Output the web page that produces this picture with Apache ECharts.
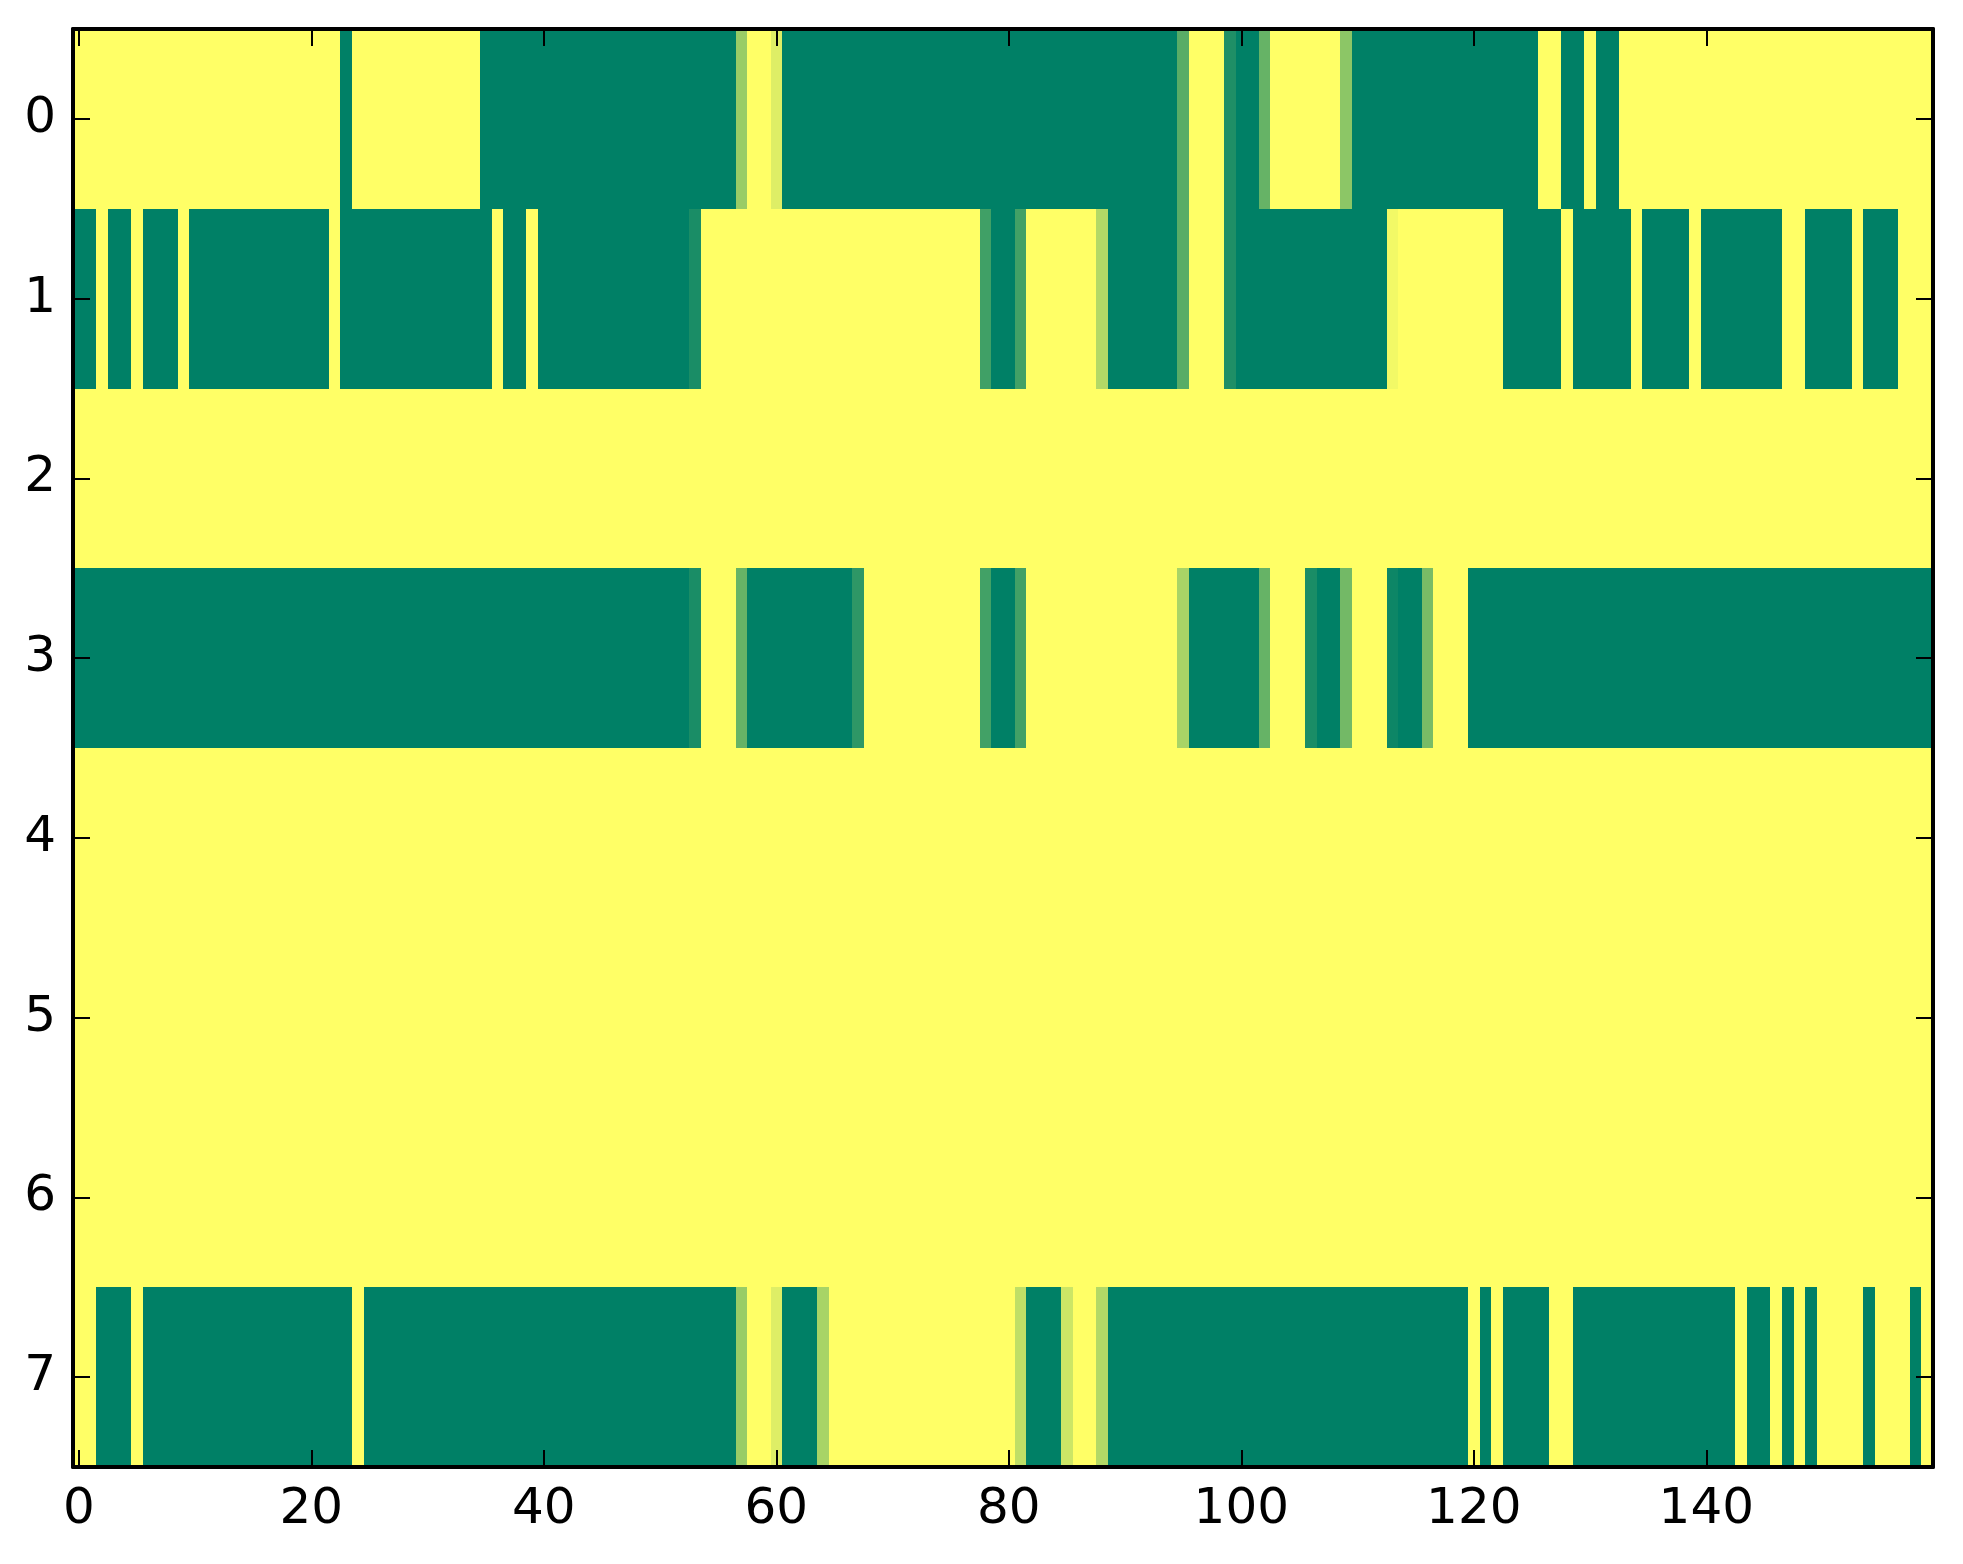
<!DOCTYPE html>
<html>
<head>
<meta charset="utf-8">
<script src="https://cdn.jsdelivr.net/npm/echarts@6/dist/echarts.min.js"></script>
<style>
html,body{margin:0;padding:0;background:#fff;}
#chart{width:1963px;height:1564px;}
</style>
</head>
<body>
<div id="chart"></div>
<script>
// Column categories (0..159) and row categories (0..7)
var xCategories = [];
for (var c = 0; c < 160; c++) xCategories.push(String(c));
var yCategories = ['0','1','2','3','4','5','6','7'];

// Cell values per row (0 = green end of colormap, 1 = yellow end)
var row0 = [
1,1,1,1,1,1,1,1,1,1, 1,1,1,1,1,1,1,1,1,1,
1,1,1,0,1,1,1,1,1,1, 1,1,1,1,1,0,0,0,0,0,
0,0,0,0,0,0,0,0,0,0, 0,0,0,0,0,0,0,0.6,1,1,
0.87,0,0,0,0,0,0,0,0,0, 0,0,0,0,0,0,0,0,0,0,
0,0,0,0,0,0,0,0,0,0, 0,0,0,0,0,0.35,1,1,1,0.12,
0,0,0.4,1,1,1,1,1,1,0.55, 0,0,0,0,0,0,0,0,0,0,
0,0,0,0,0,0,1,1,0,0, 1,0,0,1,1,1,1,1,1,1,
1,1,1,1,1,1,1,1,1,1, 1,1,1,1,1,1,1,1,1,1
];
var row1 = [
0,0,1,0,0,1,0,0,0,1, 0,0,0,0,0,0,0,0,0,0,
0,0,1,0,0,0,0,0,0,0, 0,0,0,0,0,0,1,0,0,1,
0,0,0,0,0,0,0,0,0,0, 0,0,0,0.1,1,1,1,1,1,1,
1,1,1,1,1,1,1,1,1,1, 1,1,1,1,1,1,1,1,0.25,0,
0,0.26,1,1,1,1,1,1,0.7,0, 0,0,0,0,0,0.35,1,1,1,0.12,
0,0,0,0,0,0,0,0,0,0, 0,0,0,0.95,1,1,1,1,1,1,
1,1,1,0,0,0,0,0,1,0, 0,0,0,0,1,0,0,0,0,1,
0,0,0,0,0,0,0,1,1,0, 0,0,0,1,0,0,0,1,1,1
];
var row2 = [
1,1,1,1,1,1,1,1,1,1, 1,1,1,1,1,1,1,1,1,1,
1,1,1,1,1,1,1,1,1,1, 1,1,1,1,1,1,1,1,1,1,
1,1,1,1,1,1,1,1,1,1, 1,1,1,1,1,1,1,1,1,1,
1,1,1,1,1,1,1,1,1,1, 1,1,1,1,1,1,1,1,1,1,
1,1,1,1,1,1,1,1,1,1, 1,1,1,1,1,1,1,1,1,1,
1,1,1,1,1,1,1,1,1,1, 1,1,1,1,1,1,1,1,1,1,
1,1,1,1,1,1,1,1,1,1, 1,1,1,1,1,1,1,1,1,1,
1,1,1,1,1,1,1,1,1,1, 1,1,1,1,1,1,1,1,1,1
];
var row3 = [
0,0,0,0,0,0,0,0,0,0, 0,0,0,0,0,0,0,0,0,0,
0,0,0,0,0,0,0,0,0,0, 0,0,0,0,0,0,0,0,0,0,
0,0,0,0,0,0,0,0,0,0, 0,0,0,0.1,1,1,1,0.4,0,0,
0,0,0,0,0,0,0,0.18,1,1, 1,1,1,1,1,1,1,1,0.26,0,
0,0.26,1,1,1,1,1,1,1,1, 1,1,1,1,1,0.66,0,0,0,0,
0,0,0.4,1,1,1,0.1,0,0,0.45, 1,1,1,0.05,0,0,0.47,1,1,1,
0,0,0,0,0,0,0,0,0,0, 0,0,0,0,0,0,0,0,0,0,
0,0,0,0,0,0,0,0,0,0, 0,0,0,0,0,0,0,0,0,0
];
var row4 = [
1,1,1,1,1,1,1,1,1,1, 1,1,1,1,1,1,1,1,1,1,
1,1,1,1,1,1,1,1,1,1, 1,1,1,1,1,1,1,1,1,1,
1,1,1,1,1,1,1,1,1,1, 1,1,1,1,1,1,1,1,1,1,
1,1,1,1,1,1,1,1,1,1, 1,1,1,1,1,1,1,1,1,1,
1,1,1,1,1,1,1,1,1,1, 1,1,1,1,1,1,1,1,1,1,
1,1,1,1,1,1,1,1,1,1, 1,1,1,1,1,1,1,1,1,1,
1,1,1,1,1,1,1,1,1,1, 1,1,1,1,1,1,1,1,1,1,
1,1,1,1,1,1,1,1,1,1, 1,1,1,1,1,1,1,1,1,1
];
var row5 = [
1,1,1,1,1,1,1,1,1,1, 1,1,1,1,1,1,1,1,1,1,
1,1,1,1,1,1,1,1,1,1, 1,1,1,1,1,1,1,1,1,1,
1,1,1,1,1,1,1,1,1,1, 1,1,1,1,1,1,1,1,1,1,
1,1,1,1,1,1,1,1,1,1, 1,1,1,1,1,1,1,1,1,1,
1,1,1,1,1,1,1,1,1,1, 1,1,1,1,1,1,1,1,1,1,
1,1,1,1,1,1,1,1,1,1, 1,1,1,1,1,1,1,1,1,1,
1,1,1,1,1,1,1,1,1,1, 1,1,1,1,1,1,1,1,1,1,
1,1,1,1,1,1,1,1,1,1, 1,1,1,1,1,1,1,1,1,1
];
var row6 = [
1,1,1,1,1,1,1,1,1,1, 1,1,1,1,1,1,1,1,1,1,
1,1,1,1,1,1,1,1,1,1, 1,1,1,1,1,1,1,1,1,1,
1,1,1,1,1,1,1,1,1,1, 1,1,1,1,1,1,1,1,1,1,
1,1,1,1,1,1,1,1,1,1, 1,1,1,1,1,1,1,1,1,1,
1,1,1,1,1,1,1,1,1,1, 1,1,1,1,1,1,1,1,1,1,
1,1,1,1,1,1,1,1,1,1, 1,1,1,1,1,1,1,1,1,1,
1,1,1,1,1,1,1,1,1,1, 1,1,1,1,1,1,1,1,1,1,
1,1,1,1,1,1,1,1,1,1, 1,1,1,1,1,1,1,1,1,1
];
var row7 = [
1,1,0,0,0,1,0,0,0,0, 0,0,0,0,0,0,0,0,0,0,
0,0,0,0,1,0,0,0,0,0, 0,0,0,0,0,0,0,0,0,0,
0,0,0,0,0,0,0,0,0,0, 0,0,0,0,0,0,0,0.6,1,1,
0.87,0,0,0,0.66,1,1,1,1,1, 1,1,1,1,1,1,1,1,1,1,
1,0.75,0,0,0,0.8,1,1,0.7,0, 0,0,0,0,0,0,0,0,0,0,
0,0,0,0,0,0,0,0,0,0, 0,0,0,0,0,0,0,0,0,0,
1,0,1,0,0,0,0,1,1,0, 0,0,0,0,0,0,0,0,0,0,
0,0,0,1,0,0,1,0,1,0, 1,1,1,1,0,1,1,1,0,1
];
var rows = [row0,row1,row2,row3,row4,row5,row6,row7];

// Colormap endpoints ("summer")
var colorLow = '#008066';
var colorHigh = '#ffff66';

var cells = [];
for (var r = 0; r < rows.length; r++) {
  for (var i = 0; i < rows[r].length; i++) {
    cells.push([i, r, rows[r][i]]);
  }
}

var FONT = 'DejaVu Sans';
var tickStyle = {show:true, inside:true, alignWithLabel:true, length:17, lineStyle:{color:'#000', width:2}};
var lineStyle = {show:true, onZero:false, lineStyle:{color:'#000', width:4}};

// Draw each cell as a pixel-snapped rectangle located through the axes' scales
function renderCell(params, api) {
  var p = api.coord([api.value(0), api.value(1)]);
  var s = api.size([1, 1]);
  var x0 = Math.round(p[0] - s[0] / 2), x1 = Math.round(p[0] + s[0] / 2);
  var y0 = Math.round(p[1] - s[1] / 2), y1 = Math.round(p[1] + s[1] / 2);
  return {
    type:'rect',
    shape:{x:x0, y:y0, width:x1 - x0, height:y1 - y0},
    style:{fill: api.visual('color'), stroke:null},
    silent:true
  };
}

var chart = echarts.init(document.getElementById('chart'), null, {renderer:'canvas'});
chart.setOption({
  animation:false,
  backgroundColor:'#ffffff',
  grid:{left:73, right:30, top:29, bottom:97, containLabel:false},
  xAxis:[
    {type:'category', data:xCategories, position:'bottom', z:10,
     axisLine:lineStyle,
     axisTick:Object.assign({interval:19}, tickStyle),
     axisLabel:{interval:19, margin:18, color:'#000', fontFamily:FONT, fontSize:50},
     splitLine:{show:false}},
    {type:'category', data:xCategories, position:'top', z:10,
     axisLine:lineStyle,
     axisTick:Object.assign({interval:19}, tickStyle),
     axisLabel:{show:false},
     splitLine:{show:false}}
  ],
  yAxis:[
    {type:'category', data:yCategories, inverse:true, position:'left', z:10,
     axisLine:lineStyle,
     axisTick:Object.assign({interval:0}, tickStyle),
     axisLabel:{interval:0, margin:17, color:'#000', fontFamily:FONT, fontSize:50},
     splitLine:{show:false}},
    {type:'category', data:yCategories, inverse:true, position:'right', z:10,
     axisLine:lineStyle,
     axisTick:Object.assign({interval:0}, tickStyle),
     axisLabel:{show:false},
     splitLine:{show:false}}
  ],
  visualMap:{show:false, type:'continuous', min:0, max:1, dimension:2, seriesIndex:0,
             inRange:{color:[colorLow, colorHigh]}},
  series:[{
    type:'custom', xAxisIndex:0, yAxisIndex:0, data:cells,
    encode:{x:0, y:1}, renderItem:renderCell, z:2
  }]
});
</script>
</body>
</html>
